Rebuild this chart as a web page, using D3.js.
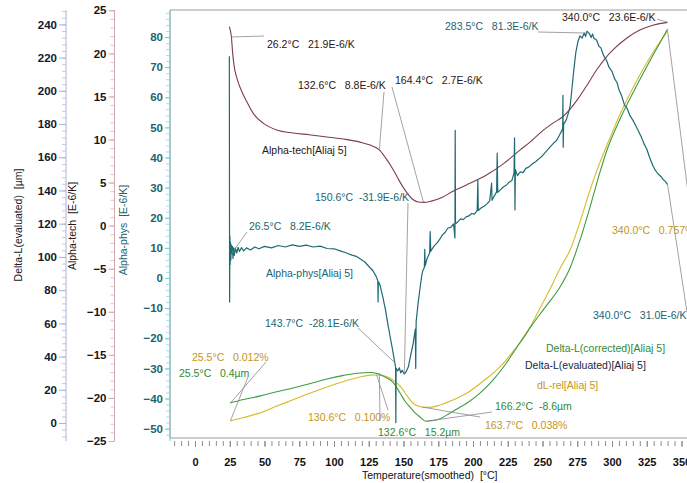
<!DOCTYPE html>
<meta charset="utf-8">
<style>

body { margin: 0; background: #fff; }

text {
  font-family: "Liberation Sans", Arial, sans-serif;
}

.tick text {
  font-size: 11.5px;
  font-weight: bold;
}

.xaxis .tick text {
  font-size: 11px;
}

.lbl {
  font-size: 10.5px;
  white-space: pre;
}

.leader {
  stroke: #8a8a8a;
  stroke-width: 0.8;
  fill: none;
}

</style>
<body>
<script src="https://d3js.org/d3.v7.min.js"></script>
<script>

/*
  Data: [temperature °C, value]
*/

var alphaPhys = [
  [24.7,73.6],[24.9,-8],[25.1,14],[25.3,4.5],[25.5,12],[25.8,6],[26.1,11],[26.5,8.2],[26.9,10.5],
  [27.3,6.5],[27.8,10],[28.3,7.5],[29,10],[30,8.3],[31,10.2],[32,8.8],[33.5,10.1],[35,9],[37,10],
  [40,9.3],[43,10.3],[46,9.7],[50,10.5],[55,10],[60,10.8],[65,10.3],[70,11],[75,10.5],[80,10.9],
  [85,10.3],[90,10.6],[95,9.8],[100,9.7],[105,8.9],[109,8.3],[113,7.6],[116,7.2],[119,6.3],[122,5.4],
  [125,3.9],[128,2.4],[130,0.8],[131.5,-0.8],[131.7,-8],[131.9,-1.2],[133,-2.2],[135,-6],[137,-10.5],
  [139,-16],[141,-21],[142.6,-25],[143.7,-28.1],[144.3,-29.5],[144.5,-48],[144.7,-30],[146,-30.8],
  [147,-29.8],[148,-31.5],[149,-30.6],[150.6,-31.9],[152,-31],[153.5,-29.5],[155,-26],[157,-21.6],
  [158.5,-17],[158.8,-30],[159.1,-14.5],[160.6,-8],[162,-3],[163.2,1],[164,2.6],[165,3.5],[165.3,9.5],
  [165.6,4],[167,6.5],[168.8,8.3],[169.2,15.4],[169.6,8.8],[170.5,9.6],[172,10.6],[174,11.6],[176,12.8],
  [178,14.3],[180,15.2],[182,16.6],[184,16.8],[186,18],[187,13.3],[187.2,49],[187.4,18],[189,18.6],
  [191,19.6],[193,19.4],[195,20.3],[197,20.6],[199,21.4],[201,21.2],[203,22.4],[203.5,32.5],[203.8,22.4],
  [206,23.3],[208,23.8],[210,24.6],[212,25.6],[213.4,31.5],[213.7,25.8],[215,27],[217,28.6],[217.4,41.5],
  [217.8,28.4],[220,29.4],[222,30.3],[224,30.8],[226,31.8],[228,32.4],[229.5,34.8],[229.9,46.5],
  [230.2,22.6],[230.5,36],[232,34],[234,35.2],[236,35],[238,36.4],[240,36.8],[243,38],[245,38.6],
  [248,39.8],[250,40.6],[253,42.2],[255,43.3],[258,44.8],[260,45.6],[262,47.2],[264.5,49.5],
  [264.7,60.6],[264.9,43.4],[265.2,51],[267,52.4],[269,55.3],[270,57.5],[271,62],[272,66.7],[273,71],
  [274,75],[275.5,78.5],[277,80.4],[278.5,79.6],[280,81.3],[281,80.2],[282,81.9],[283.5,81.3],[285,79.8],
  [286,81],[287,79.6],[289,78.9],[290.5,77],[292,76.4],[294,73.8],[296,72.3],[298,69.8],[300,68.6],
  [302,66],[303.6,64.9],[305,62.5],[307,60.4],[309,57.4],[311,56.2],[313,53.8],[315,52.4],[317,50.6],
  [319,48.8],[321,46.9],[323,44.6],[325,42.8],[327,40.1],[329.5,37.2],[331,35.9],[333,34.6],[335,33.8],
  [337,32.6],[338.5,32],[340,31]
];

var alphaTech = [
  [24.7,23.1],[25.5,22.6],[26.2,21.9],[27,20.2],[28,18.7],[30,17.2],[33.6,15.6],[37.2,14.4],[42,13],
  [49,11.9],[58.8,11.1],[70.5,10.75],[82,10.55],[95,10.3],[107,10.05],[118.7,9.7],[126,9.35],
  [132.6,8.8],[137,7.9],[142.6,6.5],[147,5.2],[152.5,3.8],[157,3.0],[160.5,2.75],[164.4,2.7],[170,2.85],
  [178,3.3],[185.6,4.0],[195,4.7],[210,5.9],[222,7.2],[234,8.8],[241,9.7],[250,11],[257.5,11.9],
  [265,12.7],[275,14.6],[282,16.3],[289,18.1],[295,19.4],[300.7,20.4],[310,21.7],[320,22.7],
  [330,23.3],[340,23.6]
];

var deltaLCorr = [
  [25.2,0.4],[35,2.1],[47,3.9],[58,5.8],[70.5,7.8],[83,10],[95,12.2],[107,14],[118.7,15.2],[126,15.4],
  [131,14.9],[136.7,13.2],[142.4,10.7],[147.5,5.3],[151,1.4],[154.7,-1.6],[158,-4.2],[161.9,-6.5],
  [166.2,-8.6],[170,-8.3],[176,-7.5],[183.5,-4.5],[190,-1.9],[195.7,0.4],[205,5.3],[214.4,11.7],
  [223,19.1],[231.7,28],[241,37.4],[248,44],[253,48.5],[262.6,57.5],[269.8,66.9],[277,80.7],
  [284.2,96.9],[291.4,114.2],[296.4,125],[305.8,140.3],[318,157],[328.8,170.8],[340,184.6]
];

var dLRel = [
  [25.2,0.0115],[35,0.018],[46.8,0.027],[58,0.039],[70.5,0.052],[83,0.065],[95,0.0765],[107,0.087],
  [118.7,0.0956],[126,0.0992],[131,0.0995],[136.7,0.0975],[142.4,0.090],[147.5,0.078],[151,0.066],
  [154.7,0.052],[158,0.043],[161.9,0.039],[163.7,0.038],[169,0.0375],[176.3,0.042],[185,0.051],
  [195.7,0.065],[207,0.087],[219.4,0.115],[229,0.145],[238.8,0.18],[248,0.226],[257.5,0.275],
  [263,0.305],[269.8,0.338],[277,0.392],[284.2,0.453],[289.2,0.491],[296.4,0.539],[305.8,0.598],
  [318,0.663],[328.8,0.713],[340,0.757]
];

var xTicks    = [0, 25, 50, 75, 100, 125, 150, 175, 200, 225, 250, 275, 300, 325, 350];
var physTicks = [-50, -40, -30, -20, -10, 0, 10, 20, 30, 40, 50, 60, 70, 80];
var techTicks = [-25, -20, -15, -10, -5, 0, 5, 10, 15, 20, 25];
var dlTicks   = [0, 20, 40, 60, 80, 100, 120, 140, 160, 180, 200, 220, 240];

var annotations = [
  {s: "tech", t: 26.2,  v: 21.9,  text: "26.2°C   21.9E-6/K"},
  {s: "tech", t: 132.6, v: 8.8,   text: "132.6°C   8.8E-6/K"},
  {s: "tech", t: 164.4, v: 2.7,   text: "164.4°C   2.7E-6/K"},
  {s: "tech", t: 340.0, v: 23.6,  text: "340.0°C   23.6E-6/K"},
  {s: "phys", t: 283.5, v: 81.3,  text: "283.5°C   81.3E-6/K"},
  {s: "phys", t: 26.5,  v: 8.2,   text: "26.5°C   8.2E-6/K"},
  {s: "phys", t: 150.6, v: -31.9, text: "150.6°C  -31.9E-6/K"},
  {s: "phys", t: 143.7, v: -28.1, text: "143.7°C  -28.1E-6/K"},
  {s: "phys", t: 340.0, v: 31.0,  text: "340.0°C   31.0E-6/K"},
  {s: "rel",  t: 340.0, v: 0.757, text: "340.0°C   0.757%"},
  {s: "rel",  t: 25.5,  v: 0.012, text: "25.5°C   0.012%"},
  {s: "corr", t: 25.5,  v: 0.4,   text: "25.5°C   0.4µm"},
  {s: "rel",  t: 130.6, v: 0.100, text: "130.6°C   0.100%"},
  {s: "corr", t: 132.6, v: 15.2,  text: "132.6°C   15.2µm"},
  {s: "corr", t: 166.2, v: -8.6,  text: "166.2°C  -8.6µm"},
  {s: "rel",  t: 163.7, v: 0.038, text: "163.7°C   0.038%"}
];

var seriesNames = [
  {s: "tech", text: "Alpha-tech[Aliaj 5]"},
  {s: "phys", text: "Alpha-phys[Aliaj 5]"},
  {s: "corr", text: "Delta-L(corrected)[Aliaj 5]"},
  {s: "eval", text: "Delta-L(evaluated)[Aliaj 5]"},
  {s: "rel",  text: "dL-rel[Aliaj 5]"}
];

/*
  Layout
*/

var width = 687,
    height = 483;

var lineColor = { phys: "#1f6a73", tech: "#7d3c4c", corr: "#3e9c44", rel: "#d6bb2c" };
var textColor = { phys: "#1b6570", tech: "#2a1616", corr: "#2f8a36", rel: "#c3961c", eval: "#1a1f40" };

// label spot and leader end for each annotation, same order
var annoLayout = [
  {x: 267, y: 48,  lx: 264, ly: 36},
  {x: 298, y: 89,  lx: 384, ly: 92},
  {x: 395, y: 84,  lx: 392, ly: 87},
  {x: 562, y: 21,  lx: 657, ly: 19},
  {x: 445, y: 30,  lx: 538, ly: 32},
  {x: 249, y: 230, lx: 247, ly: 232},
  {x: 315, y: 201, lx: 408, ly: 203},
  {x: 265, y: 327, lx: 358, ly: 328},
  {x: 593, y: 319, lx: 687, ly: 312},
  {x: 612, y: 234, lx: 693, ly: 232},
  {x: 192, y: 361, lx: 266, ly: 362, from: 11},
  {x: 179, y: 377, lx: 248, ly: 377, from: 10},
  {x: 308, y: 421, lx: 388, ly: 410},
  {x: 378, y: 436, lx: 380, ly: 421},
  {x: 495, y: 410, lx: 492, ly: 412},
  {x: 485, y: 429, lx: 480, ly: 417}
];

var nameLayout = [
  {x: 262, y: 154},
  {x: 266, y: 277},
  {x: 546, y: 352},
  {x: 525, y: 369},
  {x: 537, y: 389}
];

var x = d3.scaleLinear().domain([0, 350]).range([195, 681.5]);

var scales = {
  phys: d3.scaleLinear().domain([0, 80]).range([278, 37]),
  tech: d3.scaleLinear().domain([-25, 25]).range([441, 10.3]),
  dl:   d3.scaleLinear().domain([0, 240]).range([423, 24.4]),
  corr: d3.scaleLinear().domain([0, 184.6]).range([403.8, 29]),
  rel:  d3.scaleLinear().domain([0, 0.757]).range([427, 31])
};

var svg = d3.select("body").append("svg")
    .attr("width", width)
    .attr("height", height);

/*
  Plot frame
*/

var plotLeft = 170, plotTop = 10, plotBottom = 438;

svg.append("path")
    .attr("d", "M" + width + "," + plotTop + "H" + plotLeft + "V" + plotBottom + "H" + width)
    .attr("fill", "none")
    .attr("stroke", "#9a9a9a")
    .attr("stroke-width", 1);

/*
  X axis
*/

var xMinor = svg.append("g")
    .attr("transform", "translate(0,441)")
    .call(d3.axisBottom(x).tickValues(d3.range(-15, 351, 5)).tickSize(5).tickFormat(""));

var xAxis = svg.append("g")
    .attr("class", "xaxis")
    .attr("transform", "translate(0,441)")
    .call(d3.axisBottom(x).tickValues(xTicks).tickSize(6).tickPadding(11));

[xMinor, xAxis].forEach(function(g) {
  g.select(".domain").remove();
  g.selectAll("line").attr("stroke", "#8c8c8c");
});
xAxis.selectAll("text").attr("fill", "#111");

svg.append("text")
    .attr("class", "lbl")
    .attr("x", 362)
    .attr("y", 479)
    .attr("fill", "#111")
    .text("Temperature(smoothed)  [°C]");

/*
  Left axes
*/

function leftAxis(scale, xPos, ticks, minorStep, lo, hi, lineCol, tickCol, labelCol, majorLen, minorLen, pad) {
  var g = svg.append("g").attr("transform", "translate(" + xPos + ",0)");

  g.append("g")
      .call(d3.axisLeft(scale).tickValues(d3.range(lo, hi + 0.001, minorStep)).tickSize(minorLen).tickFormat(""))
      .call(function(a) { a.select(".domain").remove(); a.selectAll("line").attr("stroke", tickCol); });

  g.append("g")
      .call(d3.axisLeft(scale).tickValues(ticks).tickSize(majorLen).tickPadding(pad))
      .call(function(a) {
        a.select(".domain").remove();
        a.selectAll("line").attr("stroke", lineCol);
        a.selectAll("text").attr("fill", labelCol);
      });

  g.append("line")
      .attr("y1", plotTop)
      .attr("y2", 441)
      .attr("stroke", lineCol)
      .attr("stroke-width", 1);
}

leftAxis(scales.dl, 66, dlTicks, 4, -8, 248, "#a9b5d6", "#c3cbe4", "#15182a", 7, 4, 2);
leftAxis(scales.tech, 114.5, techTicks, 1, -25, 25, "#d2a9b2", "#e0c3c9", "#1c1414", 6, 4, 2);
leftAxis(scales.phys, plotLeft, physTicks, 2, -52, 88, "#7fc6cc", "#a9e0e4", "#1b6570", 5, 4, 2);

function axisTitle(xPos, yPos, col, txt) {
  svg.append("text")
      .attr("class", "lbl")
      .attr("transform", "translate(" + xPos + "," + yPos + ") rotate(-90)")
      .attr("text-anchor", "middle")
      .attr("dy", "0.35em")
      .attr("fill", col)
      .text(txt);
}

axisTitle(18, 225, "#15182a", "Delta-L(evaluated)  [µm]");
axisTitle(72, 226, "#2a1616", "Alpha-tech  [E-6/K]");
axisTitle(123, 230, "#1b6570", "Alpha-phys  [E-6/K]");

/*
  Curves
*/

function drawCurve(data, scale, col, curve, w) {
  var line = d3.line()
      .x(function(d) { return x(d[0]); })
      .y(function(d) { return scale(d[1]); })
      .curve(curve);

  svg.append("path")
      .datum(data)
      .attr("d", line)
      .attr("fill", "none")
      .attr("stroke", col)
      .attr("stroke-width", w)
      .attr("stroke-linejoin", "round");
}

drawCurve(alphaTech, scales.tech, lineColor.tech, d3.curveMonotoneX, 1.1);
drawCurve(dLRel, scales.rel, lineColor.rel, d3.curveMonotoneX, 1.1);
drawCurve(deltaLCorr, scales.corr, lineColor.corr, d3.curveMonotoneX, 1.1);
drawCurve(alphaPhys, scales.phys, lineColor.phys, d3.curveLinear, 1.2);

/*
  Annotations
*/

annotations.forEach(function(a, i) {
  var p = annoLayout[i];
  var src = p.from !== undefined ? annotations[p.from] : a;

  svg.append("line")
      .attr("class", "leader")
      .attr("x1", x(src.t))
      .attr("y1", scales[src.s](src.v))
      .attr("x2", p.lx)
      .attr("y2", p.ly);

  svg.append("text")
      .attr("class", "lbl")
      .attr("x", p.x)
      .attr("y", p.y)
      .attr("fill", textColor[a.s])
      .text(a.text);
});

seriesNames.forEach(function(n, i) {
  svg.append("text")
      .attr("class", "lbl")
      .attr("x", nameLayout[i].x)
      .attr("y", nameLayout[i].y)
      .attr("fill", textColor[n.s])
      .text(n.text);
});

</script>
